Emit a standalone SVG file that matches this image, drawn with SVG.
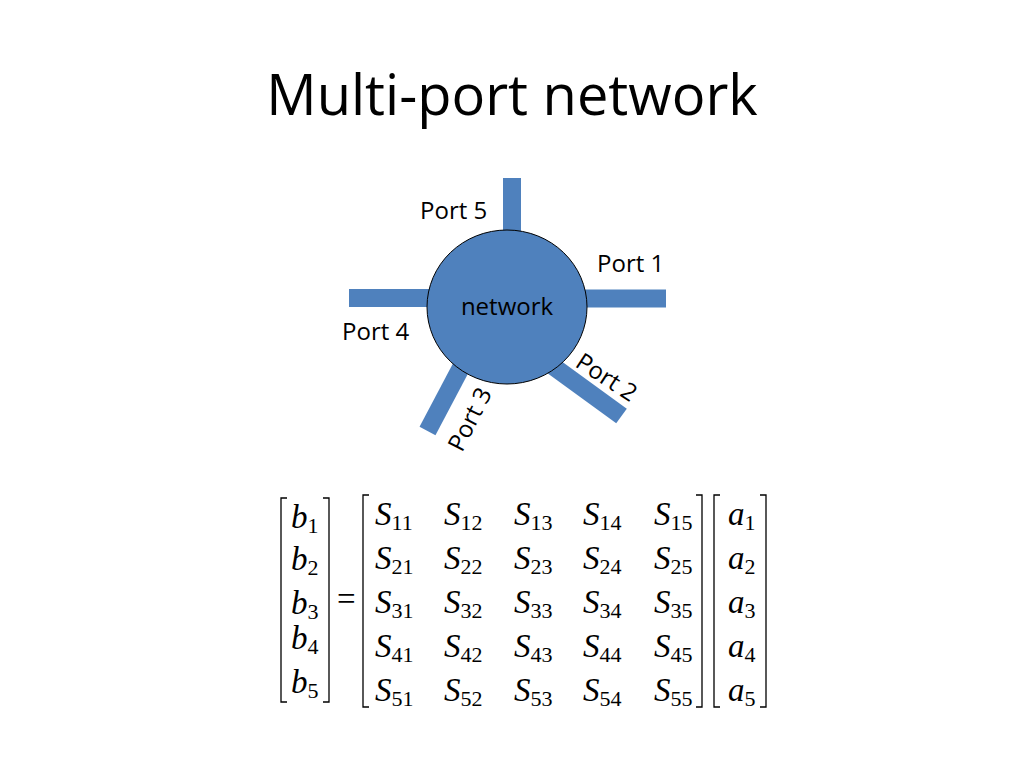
<svg xmlns="http://www.w3.org/2000/svg" width="1024" height="768" viewBox="0 0 1024 768">
<style>
.lbl{font-family:"Open Sans","Noto Sans",sans-serif;font-size:24px;fill:#000}
.stub{stroke:#4f81bd;stroke-width:18;stroke-linecap:butt;fill:none}
.m{font-family:"Liberation Serif","Times New Roman",serif;font-size:33px;font-style:italic;fill:#000}
.s{font-style:normal;font-size:22px}
.br{fill:none;stroke:#000;stroke-width:1.3}
</style>
<rect width="1024" height="768" fill="#fff"/>
<text x="512" y="115" text-anchor="middle" font-family="Open Sans, Noto Sans, sans-serif" font-size="56">Multi-port network</text>
<g id="connectors">
<line class="stub" x1="512" y1="178" x2="512" y2="240"/>
<line class="stub" x1="580" y1="298.5" x2="666" y2="298.5"/>
<line class="stub" x1="349" y1="298" x2="435" y2="298"/>
<line class="stub" x1="427.5" y1="431" x2="465" y2="360"/>
<line class="stub" x1="621.5" y1="416" x2="550" y2="364"/>
</g>
<g id="network">
<ellipse cx="507" cy="307" rx="80" ry="77" fill="#4f81bd" stroke="#000" stroke-width="1"/>
<text class="lbl" x="507" y="315" text-anchor="middle" font-size="21">network</text>
</g>
<g id="port5"><text class="lbl" x="420" y="219">Port 5</text></g>
<g id="port1"><text class="lbl" x="597" y="272">Port 1</text></g>
<g id="port4"><text class="lbl" x="342" y="340">Port 4</text></g>
<g id="port2"><text class="lbl" transform="translate(574,366) rotate(33)">Port 2</text></g>
<g id="port3"><text class="lbl" transform="translate(462,453) rotate(-63)">Port 3</text></g>
<g id="equation">
<path class="br" d="M287,498 H281 V702 H287"/>
<path class="br" d="M323,498 H329 V702 H323"/>
<path class="br" d="M369,495 H363 V707 H369"/>
<path class="br" d="M696,495 H702 V707 H696"/>
<path class="br" d="M720,495 H714 V707 H720"/>
<path class="br" d="M760,495 H766 V707 H760"/>
<text class="m" x="291" y="528">b<tspan class="s" dy="5">1</tspan></text>
<text class="m" x="291" y="570">b<tspan class="s" dy="5">2</tspan></text>
<text class="m" x="291" y="614">b<tspan class="s" dy="5">3</tspan></text>
<text class="m" x="291" y="649">b<tspan class="s" dy="5">4</tspan></text>
<text class="m" x="291" y="693">b<tspan class="s" dy="5">5</tspan></text>
<text x="337" y="610" font-family="Liberation Serif, serif" font-size="33">=</text>
<text class="m" x="375" y="525">S<tspan class="s" dy="5">11</tspan></text>
<text class="m" x="444" y="525">S<tspan class="s" dy="5">12</tspan></text>
<text class="m" x="514" y="525">S<tspan class="s" dy="5">13</tspan></text>
<text class="m" x="583" y="525">S<tspan class="s" dy="5">14</tspan></text>
<text class="m" x="654" y="525">S<tspan class="s" dy="5">15</tspan></text>
<text class="m" x="375" y="569">S<tspan class="s" dy="5">21</tspan></text>
<text class="m" x="444" y="569">S<tspan class="s" dy="5">22</tspan></text>
<text class="m" x="514" y="569">S<tspan class="s" dy="5">23</tspan></text>
<text class="m" x="583" y="569">S<tspan class="s" dy="5">24</tspan></text>
<text class="m" x="654" y="569">S<tspan class="s" dy="5">25</tspan></text>
<text class="m" x="375" y="613">S<tspan class="s" dy="5">31</tspan></text>
<text class="m" x="444" y="613">S<tspan class="s" dy="5">32</tspan></text>
<text class="m" x="514" y="613">S<tspan class="s" dy="5">33</tspan></text>
<text class="m" x="583" y="613">S<tspan class="s" dy="5">34</tspan></text>
<text class="m" x="654" y="613">S<tspan class="s" dy="5">35</tspan></text>
<text class="m" x="375" y="657">S<tspan class="s" dy="5">41</tspan></text>
<text class="m" x="444" y="657">S<tspan class="s" dy="5">42</tspan></text>
<text class="m" x="514" y="657">S<tspan class="s" dy="5">43</tspan></text>
<text class="m" x="583" y="657">S<tspan class="s" dy="5">44</tspan></text>
<text class="m" x="654" y="657">S<tspan class="s" dy="5">45</tspan></text>
<text class="m" x="375" y="701">S<tspan class="s" dy="5">51</tspan></text>
<text class="m" x="444" y="701">S<tspan class="s" dy="5">52</tspan></text>
<text class="m" x="514" y="701">S<tspan class="s" dy="5">53</tspan></text>
<text class="m" x="583" y="701">S<tspan class="s" dy="5">54</tspan></text>
<text class="m" x="654" y="701">S<tspan class="s" dy="5">55</tspan></text>
<text class="m" x="728" y="525">a<tspan class="s" dy="5">1</tspan></text>
<text class="m" x="728" y="569">a<tspan class="s" dy="5">2</tspan></text>
<text class="m" x="728" y="613">a<tspan class="s" dy="5">3</tspan></text>
<text class="m" x="728" y="657">a<tspan class="s" dy="5">4</tspan></text>
<text class="m" x="728" y="701">a<tspan class="s" dy="5">5</tspan></text>
</g>
</svg>
